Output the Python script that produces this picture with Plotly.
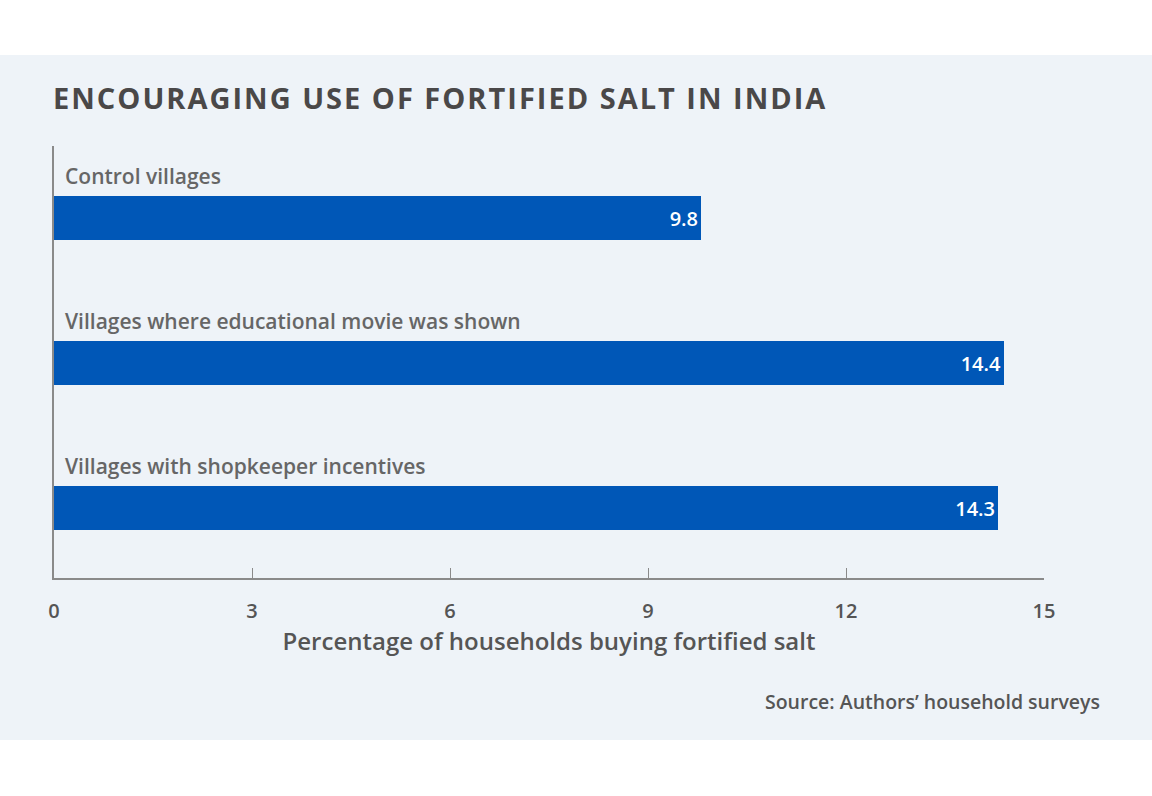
import plotly.graph_objects as go

categories = ["Control villages", "Villages where educational movie was shown", "Villages with shopkeeper incentives"]
values = [9.8, 14.4, 14.3]
tick_vals = [0, 3, 6, 9, 12, 15]
tick_text = ["0", "3", "6", "9", "12", "15"]

FONT = "Open Sans"
W, H = 1152, 796
L, R, T, B = 54, 108, 146, 218
pw, ph = W - L - R, H - T - B

def px(xp):
    return (xp - L) / pw

def py(yp):
    return (H - B - yp) / ph

fig = go.Figure()
fig.add_trace(go.Bar(
    y=categories, x=values, orientation="h",
    marker=dict(color="#0057b7", line=dict(width=0)),
    width=0.30,
    text=[f"{v:.1f}" for v in values], textposition="inside",
    insidetextanchor="end",
    textfont=dict(family=FONT, size=20, color="white", weight=600),
    hoverinfo="skip",
))

for c in categories:
    fig.add_annotation(x=0, y=c, xref="x", yref="y", text=c, showarrow=False,
                       xanchor="left", yanchor="middle", xshift=9, yshift=42,
                       font=dict(family=FONT, size=21, color="#666666", weight=600))

# panel background
fig.add_shape(type="rect", xref="paper", yref="paper", x0=px(0), x1=px(W), y0=py(740), y1=py(55),
              fillcolor="#eef3f8", line=dict(width=0), layer="below")

fig.add_annotation(x=px(51), y=py(97), xref="paper", yref="paper",
                   text='<span style="letter-spacing:2px"><b>ENCOURAGING USE OF FORTIFIED SALT IN INDIA</b></span>',
                   showarrow=False, xanchor="left", yanchor="middle",
                   font=dict(family=FONT, size=29, color="#4a4848"))
fig.add_annotation(x=px(1102), y=py(701), xref="paper", yref="paper", text="Source: Authors’ household surveys",
                   showarrow=False, xanchor="right", yanchor="middle",
                   font=dict(family=FONT, size=19.5, color="#555555", weight=600))

fig.update_layout(
    width=W, height=H, margin=dict(l=L, r=R, t=T, b=B),
    paper_bgcolor="white", plot_bgcolor="rgba(0,0,0,0)",
    showlegend=False, bargap=0,
    xaxis=dict(range=[0, 15], tickvals=tick_vals, ticktext=tick_text, showgrid=False, zeroline=False,
               showline=True, linecolor="#8a8a8a", linewidth=1.5, ticks="inside", ticklen=10,
               tickcolor="#8a8a8a", tickwidth=1, ticklabelstandoff=14,
               tickfont=dict(family=FONT, size=20, color="#555555", weight=600),
               title=dict(text="Percentage of households buying fortified salt", standoff=8,
                          font=dict(family=FONT, size=24, color="#555555", weight=600))),
    yaxis=dict(range=[2.483, -0.497], showticklabels=False, showgrid=False, zeroline=False,
               showline=True, linecolor="#8a8a8a", linewidth=1.5, ticks=""),
)

fig.write_html("out.html", config={"displayModeBar": False},
               post_script="document.body.style.margin='0';document.body.style.overflow='hidden';")
